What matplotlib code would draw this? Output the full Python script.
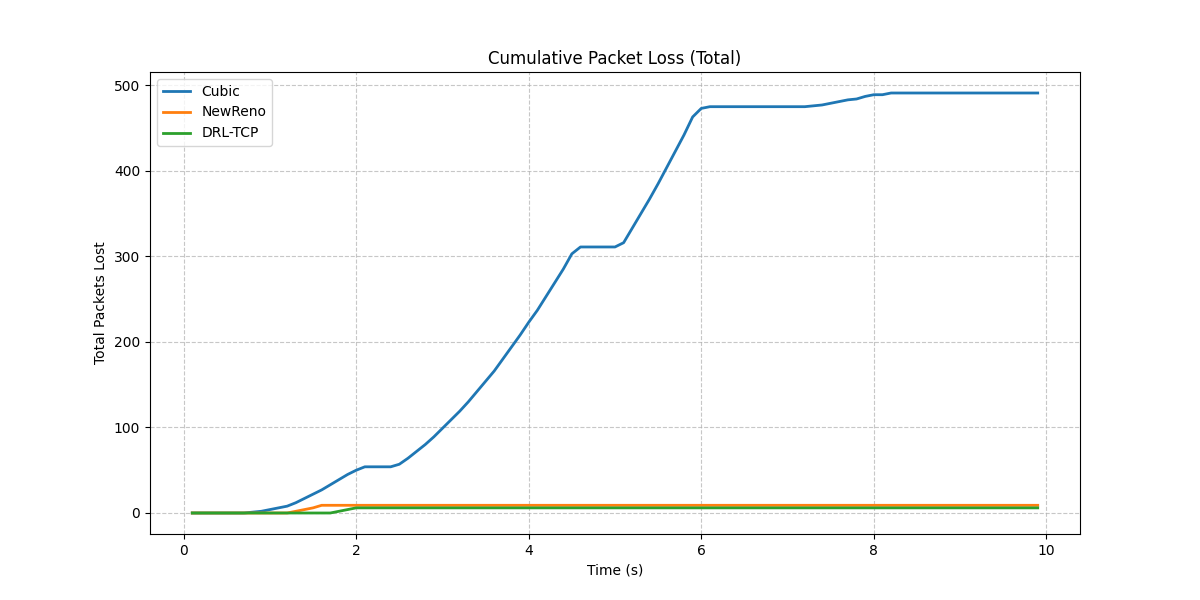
import numpy as np
import matplotlib
matplotlib.use('Agg')
import matplotlib.pyplot as plt

# sample times (s), one every 0.1 s
times = np.round(np.arange(1, 100) / 10.0, 1)

# cumulative packets lost
cubic = [
    0, 0, 0, 0, 0, 0, 0,
    1, 2, 4, 6, 8, 12, 17, 22, 27, 33, 39, 45, 50,
    54, 54, 54, 54, 57, 64, 72, 80, 89, 99,
    109, 119, 130, 142, 154, 166, 180, 194, 208, 223,
    237, 253, 269, 285, 303, 311, 311, 311, 311, 311,
    316, 333, 350, 367, 385, 404, 423, 442, 463, 473,
    475, 475, 475, 475, 475, 475, 475, 475, 475, 475, 475, 475,
    476, 477, 479, 481, 483, 484, 487, 489, 489,
    491, 491, 491, 491, 491, 491, 491, 491, 491,
    491, 491, 491, 491, 491, 491, 491, 491, 491,
]
newreno = [
    0, 0, 0, 0, 0, 0, 0, 0, 0, 0, 0, 0,
    2, 4, 6, 9,
    9, 9, 9, 9, 9, 9, 9, 9, 9, 9, 9, 9, 9, 9, 9, 9, 9, 9, 9, 9,
    9, 9, 9, 9, 9, 9, 9, 9, 9, 9, 9, 9, 9, 9, 9, 9, 9, 9, 9, 9,
    9, 9, 9, 9, 9, 9, 9, 9, 9, 9, 9, 9, 9, 9, 9, 9, 9, 9, 9, 9,
    9, 9, 9, 9, 9, 9, 9, 9, 9, 9, 9, 9, 9, 9, 9, 9, 9, 9, 9, 9,
    9, 9, 9,
]
drl_tcp = [
    0, 0, 0, 0, 0, 0, 0, 0, 0, 0, 0, 0, 0, 0, 0, 0, 0,
    2, 4, 6,
    6, 6, 6, 6, 6, 6, 6, 6, 6, 6, 6, 6, 6, 6, 6, 6, 6, 6, 6, 6,
    6, 6, 6, 6, 6, 6, 6, 6, 6, 6, 6, 6, 6, 6, 6, 6, 6, 6, 6, 6,
    6, 6, 6, 6, 6, 6, 6, 6, 6, 6, 6, 6, 6, 6, 6, 6, 6, 6, 6, 6,
    6, 6, 6, 6, 6, 6, 6, 6, 6, 6, 6, 6, 6, 6, 6, 6, 6, 6, 6,
]

fig, ax = plt.subplots(figsize=(12, 6), dpi=100)
ax.plot(times, cubic, label='Cubic', linewidth=2)
ax.plot(times, newreno, label='NewReno', linewidth=2)
ax.plot(times, drl_tcp, label='DRL-TCP', linewidth=2)

ax.set_title('Cumulative Packet Loss (Total)')
ax.set_xlabel('Time (s)')
ax.set_ylabel('Total Packets Lost')
ax.grid(True, linestyle='--', alpha=0.7)
ax.legend(loc='upper left')

fig.savefig('out.png')
